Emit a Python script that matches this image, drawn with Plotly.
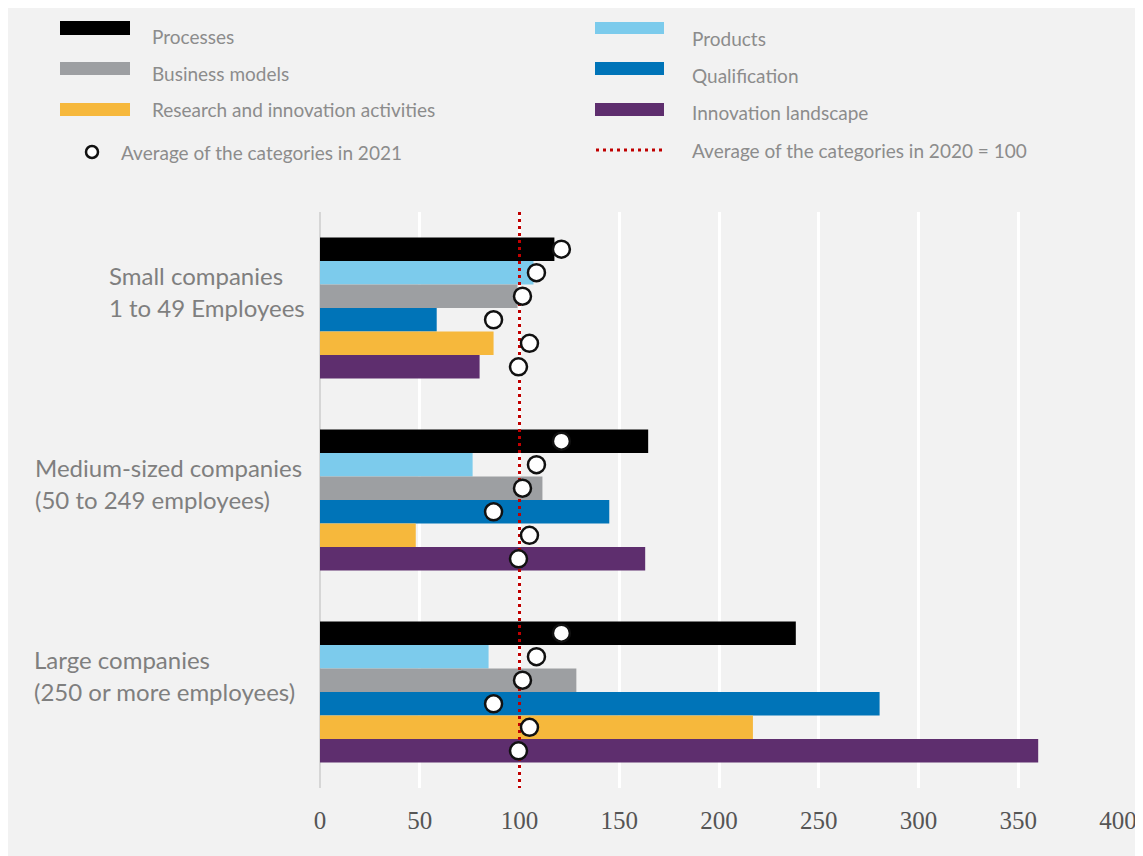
import plotly.graph_objects as go

# ---------------- data ----------------
groups = ["Small companies", "Medium-sized companies", "Large companies"]
group_line1 = ["Small companies", "Medium-sized companies", "Large companies"]
group_line2 = ["1 to 49 Employees", "(50 to 249 employees)", "(250 or more employees)"]

series = ["Processes", "Products", "Business models", "Qualification",
          "Research and innovation activities", "Innovation landscape"]
colors = ["#000000", "#7ccbec", "#9d9fa2", "#0074b8", "#f6b83c", "#5e2e6e"]

processes = [117.5, 164.5, 238.5]
products = [107, 76.5, 84.5]
business_models = [99, 111.5, 128.5]
qualification = [58.5, 145, 280.5]
research_innovation = [87, 48, 217]
innovation_landscape = [80, 163, 360]
values = [processes, products, business_models, qualification,
          research_innovation, innovation_landscape]

# average of the categories in 2021 (per series)
avg_2021 = [121, 108.5, 101.5, 87, 105, 99.5]
avg_2020 = 100

tick_vals = [0, 50, 100, 150, 200, 250, 300, 350, 400]

# ---------------- layout constants ----------------
# page body has an 8px margin, so the figure origin sits at (8, 8)
W, H = 1135, 848
L, T = 312, 204          # plot left/top inside the figure
PW, PH = 798, 576
R = W - L - PW
B = H - T - PH
PL, PT = 320, 212        # plot left/top in screen pixels
bar_w = 0.1225
FONT = "Lato, 'Open Sans', sans-serif"
TXT = "#8c8c8c"
BG = "#f2f2f2"

fig = go.Figure()
n = len(series)
for k in range(n):
    ys = [g + (k - (n - 1) / 2) * bar_w for g in range(len(groups))]
    fig.add_trace(go.Bar(
        x=values[k], y=ys, orientation="h", width=bar_w,
        marker=dict(color=colors[k], line=dict(width=0)),
        name=series[k], showlegend=False, hoverinfo="x"))

# reference line (2020 = 100)
fig.add_trace(go.Scatter(
    x=[avg_2020, avg_2020], y=[-0.5, 2.5], mode="lines",
    line=dict(color="#c00000", width=3, dash="3px,4px"),
    showlegend=False, hoverinfo="skip"))

# circles (2021 averages)
for k in range(n):
    ys = [g + (k - (n - 1) / 2) * bar_w for g in range(len(groups))]
    fig.add_trace(go.Scatter(
        x=[avg_2021[k]] * len(groups), y=ys, mode="markers",
        marker=dict(size=17, color="white", line=dict(color="#111111", width=2.5)),
        showlegend=False, hoverinfo="x"))

shapes = []
annotations = []

def px_rect(x0, y0, x1, y1, color):
    shapes.append(dict(type="rect", xref="paper", yref="paper",
                       xsizemode="pixel", ysizemode="pixel", xanchor=0, yanchor=1,
                       x0=x0 - PL, x1=x1 - PL, y0=PT - y1, y1=PT - y0,
                       fillcolor=color, line=dict(width=0)))

def px_text(x, y, text, size=19, color=TXT):
    annotations.append(dict(xref="paper", yref="paper", x=0, y=1,
                            xshift=x - PL, yshift=PT - y, xanchor="left", yanchor="middle",
                            text=text, showarrow=False,
                            font=dict(family=FONT, size=size, color=color)))

# legend (left column)
leg_left = [(0, 21, 35, 36), (2, 62, 75, 73), (4, 103, 116, 109)]
for k, ya, yb, yt in leg_left:
    px_rect(60, ya, 130, yb, colors[k])
    px_text(150, yt, series[k])
# legend (right column)
leg_right = [(1, 22, 34, 38), (3, 62, 75, 75), (5, 103, 116, 112)]
for k, ya, yb, yt in leg_right:
    px_rect(595, ya, 664, yb, colors[k])
    px_text(690, yt, series[k])

# circle legend
shapes.append(dict(type="circle", xref="paper", yref="paper",
                   xsizemode="pixel", ysizemode="pixel", xanchor=0, yanchor=1,
                   x0=92 - 6 - PL, x1=92 + 6 - PL, y0=PT - 152 - 6, y1=PT - 152 + 6,
                   fillcolor="white", line=dict(color="#111111", width=2.5)))
px_text(119, 152, "Average of the categories in 2021")
# dotted legend
shapes.append(dict(type="line", xref="paper", yref="paper",
                   xsizemode="pixel", ysizemode="pixel", xanchor=0, yanchor=1,
                   x0=596 - PL, x1=663 - PL, y0=PT - 150, y1=PT - 150,
                   line=dict(color="#c00000", width=3, dash="3px,4px")))
px_text(690, 150, "Average of the categories in 2020 = 100")

# group labels
lab_x = [107, 33, 32]
for g in range(len(groups)):
    for line, shift in ((group_line1[g], 33), (group_line2[g], 1)):
        annotations.append(dict(xref="paper", yref="y", x=0, y=g,
                                xshift=lab_x[g] - PL, yshift=shift,
                                xanchor="left", yanchor="middle", text=line,
                                showarrow=False,
                                font=dict(family=FONT, size=24, color="#7f7f7f")))

fig.update_layout(
    width=W, height=H,
    margin=dict(l=L, r=R, t=T, b=B, pad=0, autoexpand=False),
    paper_bgcolor=BG, plot_bgcolor=BG,
    barmode="overlay", showlegend=False,
    shapes=shapes, annotations=annotations,
    xaxis=dict(range=[0, 400], tickvals=tick_vals, showgrid=True, automargin=False,
               gridcolor="white", gridwidth=3, zeroline=True,
               zerolinecolor="#d6d6d6", zerolinewidth=2, showline=False,
               ticks="outside", ticklen=10, tickcolor=BG,
               tickfont=dict(family="'Liberation Serif', serif", size=25, color="#555555"),
               fixedrange=True),
    yaxis=dict(range=[2.5, -0.5], showticklabels=False, showgrid=False, automargin=False,
               zeroline=False, showline=False, fixedrange=True),
)

fig.write_html("out.html")
